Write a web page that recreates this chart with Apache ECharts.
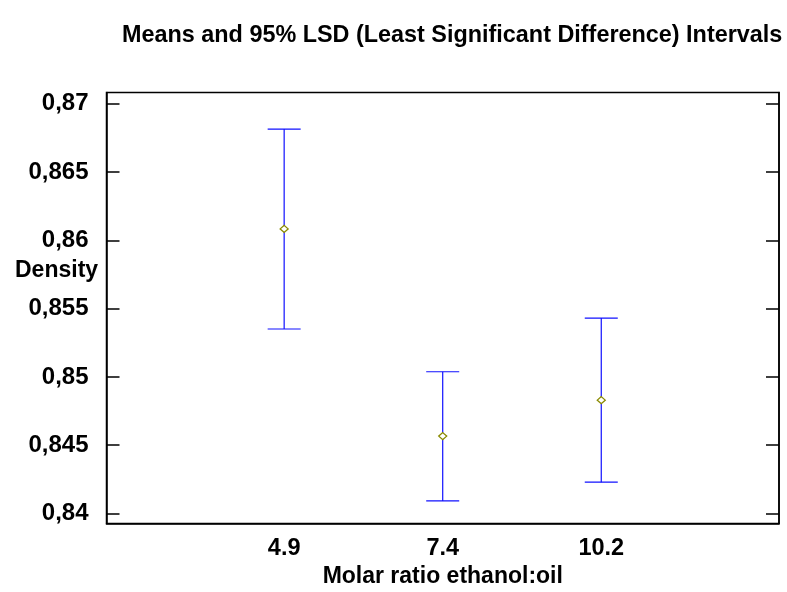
<!DOCTYPE html>
<html>
<head>
<meta charset="utf-8">
<script src="https://cdn.jsdelivr.net/npm/echarts@6/dist/echarts.min.js"></script>
<style>
html,body{margin:0;padding:0;background:#fff;}
#chart{width:787px;height:592px;}
</style>
</head>
<body>
<div id="chart"></div>
<script>
// Data
var categories = ['4.9', '7.4', '10.2'];
var means = [0.86084, 0.84567, 0.84830];
var upper = [0.86815, 0.85038, 0.85431];
var lower = [0.85351, 0.84092, 0.84229];
var yTickValues = [0.84, 0.845, 0.85, 0.855, 0.86, 0.865, 0.87];
var yTickLabels = ['0,84', '0,845', '0,85', '0,855', '0,86', '0,865', '0,87'];

var FONT = '"Liberation Sans", Arial, Helvetica, sans-serif';

var barData = categories.map(function (c, i) { return [i + 1, lower[i], upper[i]]; });
var meanData = categories.map(function (c, i) { return [i + 1, means[i]]; });

var chart = echarts.init(document.getElementById('chart'), null, {renderer: 'canvas'});
chart.setOption({
  backgroundColor: '#ffffff',
  animation: false,
  title: {
    text: 'Means and 95% LSD (Least Significant Difference) Intervals',
    left: 122,
    top: 24,
    padding: 0,
    textStyle: {fontFamily: FONT, fontWeight: 'bold', fontSize: 23.4, color: '#000'}
  },
  grid: {
    left: 106.5, right: 8, top: 92.5, bottom: 68.5,
    containLabel: false,
    outerBoundsMode: 'none',
    show: true, borderColor: '#000', borderWidth: 1.5, backgroundColor: 'transparent'
  },
  xAxis: {
    type: 'value',
    min: -0.1205,
    max: 4.121,
    splitLine: {show: false},
    axisLine: {show: true, onZero: false, lineStyle: {color: '#000', width: 1.5}},
    axisTick: {show: false},
    axisLabel: {
      customValues: [1, 2, 3],
      formatter: function (v) { return categories[Math.round(v) - 1] || ''; },
      margin: 13,
      fontFamily: FONT, fontWeight: 'bold', fontSize: 23.5, color: '#000'
    },
    name: 'Molar ratio ethanol:oil',
    nameLocation: 'middle',
    nameGap: 37,
    nameTextStyle: {fontFamily: FONT, fontWeight: 'bold', fontSize: 23, color: '#000'}
  },
  yAxis: [{
    type: 'value',
    position: 'left',
    min: 0.839267,
    max: 0.870828,
    splitLine: {show: false},
    axisLine: {show: true, onZero: false, lineStyle: {color: '#000', width: 1.5}},
    axisTick: {show: true, inside: true, length: 13, customValues: yTickValues, lineStyle: {color: '#000', width: 1.5}},
    axisLabel: {
      customValues: yTickValues,
      formatter: function (v) {
        var idx = yTickValues.findIndex(function (t) { return Math.abs(t - v) < 1e-9; });
        return idx >= 0 ? yTickLabels[idx] : '';
      },
      margin: 18,
      fontFamily: FONT, fontWeight: 'bold', fontSize: 24, color: '#000'
    }
  }, {
    type: 'value',
    position: 'right',
    min: 0.839267,
    max: 0.870828,
    splitLine: {show: false},
    axisLine: {show: true, onZero: false, lineStyle: {color: '#000', width: 1.5}},
    axisTick: {show: true, inside: true, length: 13, customValues: yTickValues, lineStyle: {color: '#000', width: 1.5}},
    axisLabel: {show: false}
  }],
  graphic: [{
    type: 'text',
    left: 15,
    top: 259,
    style: {text: 'Density', font: 'bold 23px ' + FONT, fill: '#000'}
  }],
  series: [{
    type: 'custom',
    yAxisIndex: 0,
    data: barData,
    renderItem: function (params, api) {
      var x = api.value(0);
      var lo = api.coord([x, api.value(1)]);
      var hi = api.coord([x, api.value(2)]);
      var hw = 16.5;
      var st = {stroke: '#1010ff', lineWidth: 1.2};
      return {
        type: 'group',
        children: [
          {type: 'line', shape: {x1: lo[0], y1: lo[1], x2: hi[0], y2: hi[1]}, style: st},
          {type: 'line', shape: {x1: hi[0] - hw, y1: hi[1], x2: hi[0] + hw, y2: hi[1]}, style: st},
          {type: 'line', shape: {x1: lo[0] - hw, y1: lo[1], x2: lo[0] + hw, y2: lo[1]}, style: st}
        ]
      };
    },
    z: 2
  }, {
    type: 'scatter',
    yAxisIndex: 0,
    data: meanData,
    symbol: 'diamond',
    symbolSize: [8, 7],
    itemStyle: {color: '#ffffff', borderColor: '#8a8a00', borderWidth: 1.3, opacity: 1},
    z: 3
  }]
});
</script>
</body>
</html>
